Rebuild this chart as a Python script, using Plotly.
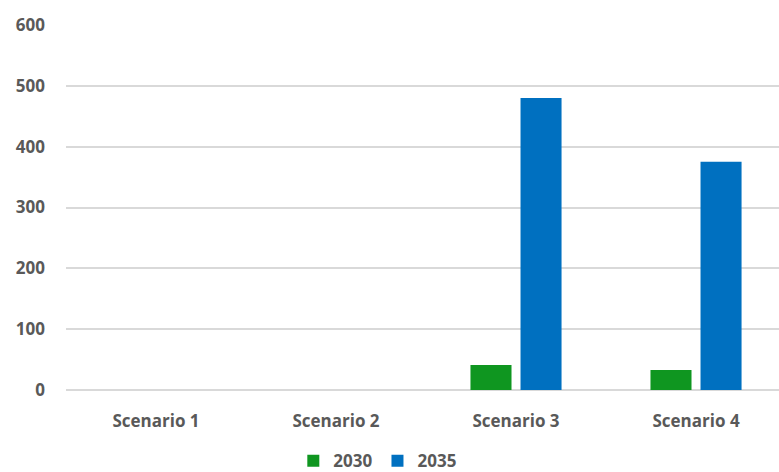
import plotly.graph_objects as go

scenarios = ["Scenario 1", "Scenario 2", "Scenario 3", "Scenario 4"]
values_2030 = [0, 0, 41, 33]
values_2035 = [0, 0, 480, 375]
y_ticks = [0, 100, 200, 300, 400, 500, 600]

text_color = "#595959"
font_family = "Open Sans"

fig = go.Figure()
fig.add_trace(go.Bar(name="2030", x=scenarios, y=values_2030,
                     marker=dict(color="#0F9620", line=dict(width=0))))
fig.add_trace(go.Bar(name="2035", x=scenarios, y=values_2035,
                     marker=dict(color="#0070C0", line=dict(width=0))))

fig.update_layout(
    width=779, height=472,
    margin=dict(l=66, r=0, t=25, b=82),
    paper_bgcolor="white", plot_bgcolor="white",
    barmode="group", bargap=0.444, bargroupgap=0.18,
    font=dict(family=font_family, color=text_color, size=16),
    showlegend=True,
    legend=dict(orientation="h", xref="container", yref="container",
                x=0.485, y=0.023, xanchor="center", yanchor="middle",
                font=dict(family=font_family, size=17, color=text_color, weight="bold"),
                itemwidth=30, traceorder="normal"),
    xaxis=dict(range=[-0.5, 3.461], showgrid=False, zeroline=False,
               showline=False, ticks="", ticklabelstandoff=19,
               tickfont=dict(family=font_family, size=17, color=text_color, weight="bold")),
    yaxis=dict(range=[0, 600], tickvals=y_ticks, showgrid=True,
               gridcolor="#D9D9D9", gridwidth=1.5, zeroline=True,
               zerolinecolor="#D9D9D9", zerolinewidth=1.5, showline=False,
               ticks="", ticklabelstandoff=20,
               tickfont=dict(family=font_family, size=17, color=text_color, weight="bold")),
)

fig.write_html("out.html")
